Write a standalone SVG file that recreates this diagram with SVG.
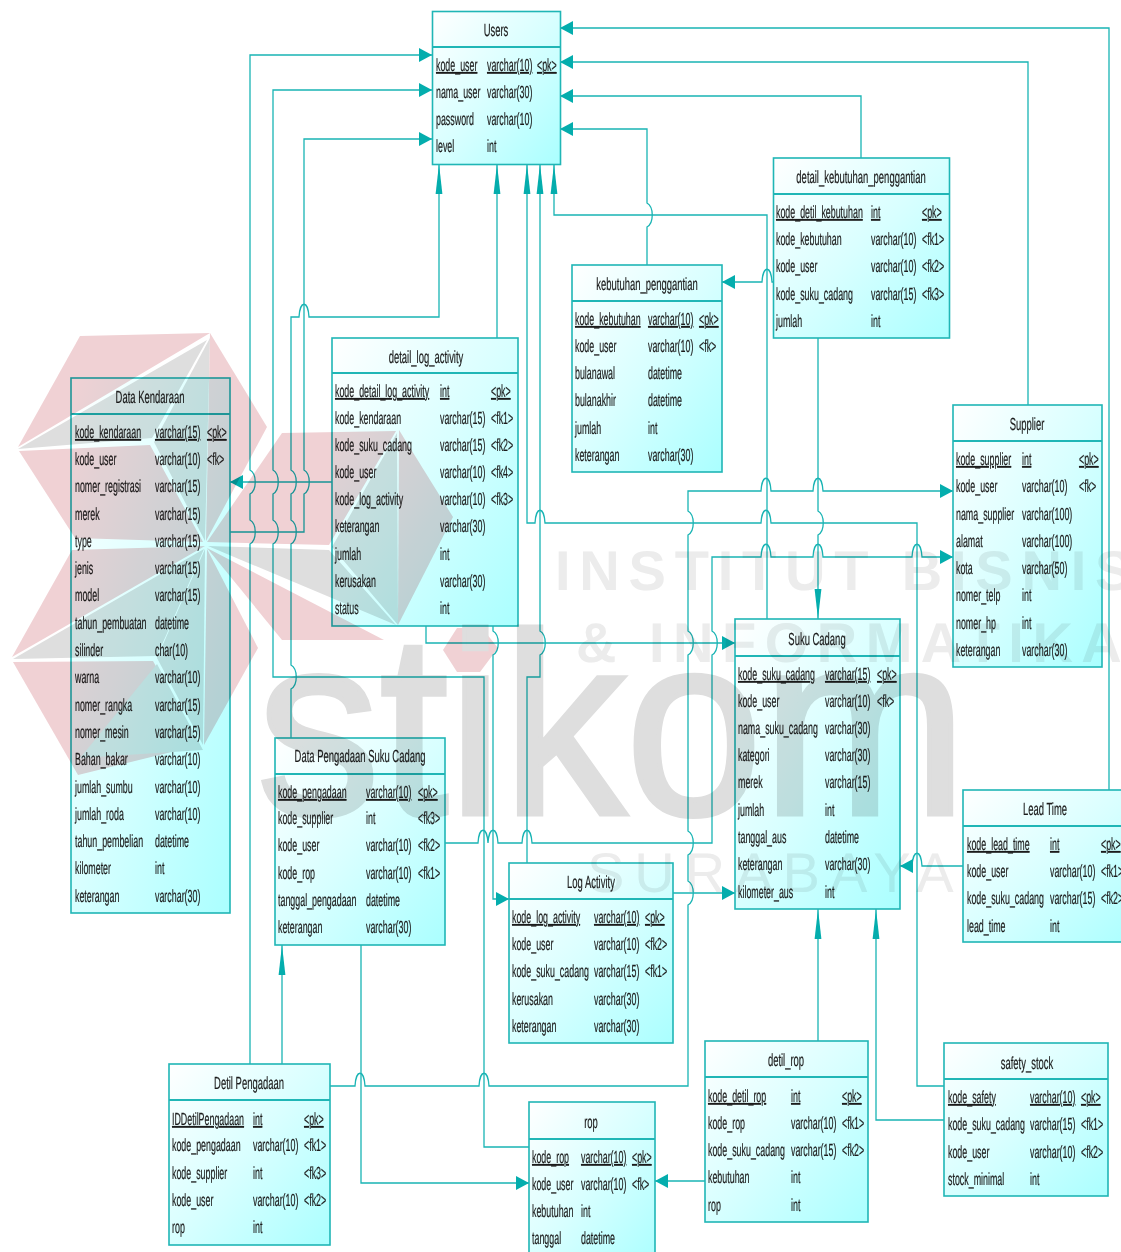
<svg xmlns="http://www.w3.org/2000/svg" width="1121" height="1252" viewBox="0 0 1121 1252">
<style>
text{font-family:"Liberation Sans",Arial,sans-serif;font-size:17.500px;fill:#1c1c1c;stroke:#1c1c1c;stroke-width:.22;text-rendering:geometricPrecision}
.u{text-decoration:underline}
.m{text-anchor:middle}
.b{fill:url(#tg);stroke:#20b6b6;stroke-width:1.6}
.d{stroke:#20b6b6;stroke-width:2}
#connectors path{fill:none;stroke:#19b4b4;stroke-width:1.3}
#connectors use{fill:#04adad}
#watermark{mix-blend-mode:multiply}
#watermark .p{fill:#f0d1d4}
#watermark .g{fill:#dedede}
#watermark text{font-weight:bold;font-size:56px;fill:#ececec;stroke:none}
</style>
<defs>
<linearGradient id="tg" x1="0" y1="0" x2="1" y2="1"><stop offset="0" stop-color="#fff"/><stop offset=".5" stop-color="#d8ffff"/><stop offset="1" stop-color="#aaffff"/></linearGradient>
<path id="ar" d="M0 0L-13-7V7Z"/>
<path id="al" d="M0 0L13-7V7Z"/>
<path id="au" d="M0 0L-3.4 30H3.4Z"/>
<path id="ad" d="M0 0L-3.4-30H3.4Z"/>
</defs>
<rect width="1121" height="1252" fill="#fff"/>
<g id="connectors">
<path d="M432 55H250V470c7 4 7 20 0 24V520c7 4 7 20 0 24V1064"/>
<path d="M432 90H273V470c7 4 7 20 0 24V520c7 4 7 20 0 24V677H484V1147H529"/>
<path d="M432 139H304V470c7 4 7 20 0 24V532H230"/>
<path d="M439 164V317H309c-1-17-9-17-10 0H291V470c7 4 7 20 0 24V520c7 4 7 20 0 24V665c7 4 7 20 0 24V738"/>
<path d="M497 338V164"/>
<path d="M527 164V523H535c1-17 9-17 10 0H761c1-17 9-17 10 0H917V1086H944"/>
<path d="M527 863V677H540V655c7-4 7-20 0-24V164"/>
<path d="M554 164V215H767V619"/>
<path d="M560 129H647V203c7 4 7 20 0 24V265"/>
<path d="M560 96H861V158"/>
<path d="M560 62H1028V405"/>
<path d="M560 28H1109V790"/>
<path d="M773 282H772c-1-17-9-17-10 0H722"/>
<path d="M818 338V511c7 4 7 20 0 24V619"/>
<path d="M953 491H823c-1-17-9-17-10 0H771c-1-17-9-17-10 0H688V511c7 4 7 20 0 24V631c7 4 7 20 0 24V831c7 4 7 20 0 24V881c7 4 7 20 0 24V1086H489c-1-17-9-17-10 0H365c-1-17-9-17-10 0H330"/>
<path d="M953 557H922c-1-17-9-17-10 0H823c-1-17-9-17-10 0H771c-1-17-9-17-10 0H712V631c7 4 7 20 0 24V843H532c-1-17-9-17-10 0H498c-1-17-9-17-10 0c-1-17-9-17-10 0H445"/>
<path d="M426 626V643H735"/>
<path d="M493 626V631c7 4 7 20 0 24V899H509"/>
<path d="M332 482H230"/>
<path d="M673 893H735"/>
<path d="M361 945V1183H529"/>
<path d="M282 1064V945"/>
<path d="M705 1181H655"/>
<path d="M818 1041V909"/>
<path d="M944 1120H876V909"/>
<path d="M963 866H922c-1-17-9-17-10 0H900"/>
<use href="#ar" x="432" y="55"/><use href="#ar" x="432" y="90"/><use href="#ar" x="432" y="139"/>
<use href="#ar" x="953" y="491"/><use href="#ar" x="953" y="557"/><use href="#ar" x="735" y="643"/>
<use href="#ar" x="735" y="893"/><use href="#ar" x="509" y="899"/><use href="#ar" x="529" y="1183"/>
<use href="#al" x="560" y="28"/><use href="#al" x="560" y="62"/><use href="#al" x="560" y="96"/>
<use href="#al" x="560" y="129"/><use href="#al" x="722" y="282"/><use href="#al" x="230" y="482"/>
<use href="#al" x="655" y="1181"/><use href="#al" x="900" y="866"/>
<use href="#au" x="439" y="164"/><use href="#au" x="497" y="164"/><use href="#au" x="527" y="164"/>
<use href="#au" x="540" y="164"/><use href="#au" x="554" y="164"/><use href="#au" x="282" y="945"/>
<use href="#au" x="818" y="909"/><use href="#au" x="876" y="909"/><use href="#ad" x="818" y="619"/>
</g>

<g id="users">
<rect class="b" x="432.500" y="11.500" width="128" height="153"/><path class="d" d="M432 47H560"/>
<text class="m" transform="translate(496 36) scale(.54 1)">Users</text>
<g transform="translate(436 1) scale(.507 1)"><text class="u" y="70">kode_user</text><text y="97">nama_user</text><text y="124">password</text><text y="151">level</text></g>
<g transform="translate(487 1) scale(.507 1)"><text class="u" y="70">varchar(10)</text><text y="97">varchar(30)</text><text y="124">varchar(10)</text><text y="151">int</text></g>
<g transform="translate(537 1) scale(.507 1)"><text class="u" y="70">&lt;pk&gt;</text></g>
</g>

<g id="detail_kebutuhan_penggantian">
<rect class="b" x="773.500" y="158" width="176" height="180"/><path class="d" d="M773 194H949"/>
<text class="m" transform="translate(861 183) scale(.54 1)">detail_kebutuhan_penggantian</text>
<g transform="translate(776 1) scale(.507 1)"><text class="u" y="217">kode_detil_kebutuhan</text><text y="244">kode_kebutuhan</text><text y="271">kode_user</text><text y="299">kode_suku_cadang</text><text y="326">jumlah</text></g>
<g transform="translate(871 1) scale(.507 1)"><text class="u" y="217">int</text><text y="244">varchar(10)</text><text y="271">varchar(10)</text><text y="299">varchar(15)</text><text y="326">int</text></g>
<g transform="translate(922 1) scale(.507 1)"><text class="u" y="217">&lt;pk&gt;</text><text y="244">&lt;fk1&gt;</text><text y="271">&lt;fk2&gt;</text><text y="299">&lt;fk3&gt;</text></g>
</g>

<g id="kebutuhan_penggantian">
<rect class="b" x="572" y="265" width="150" height="207"/><path class="d" d="M572 301H722"/>
<text class="m" transform="translate(647 290) scale(.54 1)">kebutuhan_penggantian</text>
<g transform="translate(575 1) scale(.507 1)"><text class="u" y="324">kode_kebutuhan</text><text y="351">kode_user</text><text y="378">bulanawal</text><text y="405">bulanakhir</text><text y="433">jumlah</text><text y="460">keterangan</text></g>
<g transform="translate(648 1) scale(.507 1)"><text class="u" y="324">varchar(10)</text><text y="351">varchar(10)</text><text y="378">datetime</text><text y="405">datetime</text><text y="433">int</text><text y="460">varchar(30)</text></g>
<g transform="translate(699 1) scale(.507 1)"><text class="u" y="324">&lt;pk&gt;</text><text y="351">&lt;fk&gt;</text></g>
</g>

<g id="detail_log_activity">
<rect class="b" x="332" y="338" width="186" height="288"/><path class="d" d="M332 373H518"/>
<text class="m" transform="translate(426 363) scale(.54 1)">detail_log_activity</text>
<g transform="translate(335 1) scale(.507 1)"><text class="u" y="396">kode_detail_log_activity</text><text y="423">kode_kendaraan</text><text y="450">kode_suku_cadang</text><text y="477">kode_user</text><text y="504">kode_log_activity</text><text y="531">keterangan</text><text y="559">jumlah</text><text y="586">kerusakan</text><text y="613">status</text></g>
<g transform="translate(440 1) scale(.507 1)"><text class="u" y="396">int</text><text y="423">varchar(15)</text><text y="450">varchar(15)</text><text y="477">varchar(10)</text><text y="504">varchar(10)</text><text y="531">varchar(30)</text><text y="559">int</text><text y="586">varchar(30)</text><text y="613">int</text></g>
<g transform="translate(491 1) scale(.507 1)"><text class="u" y="396">&lt;pk&gt;</text><text y="423">&lt;fk1&gt;</text><text y="450">&lt;fk2&gt;</text><text y="477">&lt;fk4&gt;</text><text y="504">&lt;fk3&gt;</text></g>
</g>

<g id="data_kendaraan">
<rect class="b" x="71" y="378" width="159" height="535"/><path class="d" d="M71 414H230"/>
<text class="m" transform="translate(150 403) scale(.54 1)">Data Kendaraan</text>
<g transform="translate(75 1) scale(.507 1)"><text class="u" y="437">kode_kendaraan</text><text y="464">kode_user</text><text y="491">nomer_registrasi</text><text y="519">merek</text><text y="546">type</text><text y="573">jenis</text><text y="600">model</text><text y="628">tahun_pembuatan</text><text y="655">silinder</text><text y="682">warna</text><text y="710">nomer_rangka</text><text y="737">nomer_mesin</text><text y="764">Bahan_bakar</text><text y="792">jumlah_sumbu</text><text y="819">jumlah_roda</text><text y="846">tahun_pembelian</text><text y="873">kilometer</text><text y="901">keterangan</text></g>
<g transform="translate(155 1) scale(.507 1)"><text class="u" y="437">varchar(15)</text><text y="464">varchar(10)</text><text y="491">varchar(15)</text><text y="519">varchar(15)</text><text y="546">varchar(15)</text><text y="573">varchar(15)</text><text y="600">varchar(15)</text><text y="628">datetime</text><text y="655">char(10)</text><text y="682">varchar(10)</text><text y="710">varchar(15)</text><text y="737">varchar(15)</text><text y="764">varchar(10)</text><text y="792">varchar(10)</text><text y="819">varchar(10)</text><text y="846">datetime</text><text y="873">int</text><text y="901">varchar(30)</text></g>
<g transform="translate(207 1) scale(.507 1)"><text class="u" y="437">&lt;pk&gt;</text><text y="464">&lt;fk&gt;</text></g>
</g>

<g id="supplier">
<rect class="b" x="953" y="405" width="149" height="262"/><path class="d" d="M953 441H1102"/>
<text class="m" transform="translate(1027 430) scale(.54 1)">Supplier</text>
<g transform="translate(956 1) scale(.507 1)"><text class="u" y="464">kode_supplier</text><text y="491">kode_user</text><text y="519">nama_supplier</text><text y="546">alamat</text><text y="573">kota</text><text y="600">nomer_telp</text><text y="628">nomer_hp</text><text y="655">keterangan</text></g>
<g transform="translate(1022 1) scale(.507 1)"><text class="u" y="464">int</text><text y="491">varchar(10)</text><text y="519">varchar(100)</text><text y="546">varchar(100)</text><text y="573">varchar(50)</text><text y="600">int</text><text y="628">int</text><text y="655">varchar(30)</text></g>
<g transform="translate(1079 1) scale(.507 1)"><text class="u" y="464">&lt;pk&gt;</text><text y="491">&lt;fk&gt;</text></g>
</g>

<g id="suku_cadang">
<rect class="b" x="735" y="619" width="165" height="290"/><path class="d" d="M735 656H900"/>
<text class="m" transform="translate(817 645) scale(.54 1)">Suku Cadang</text>
<g transform="translate(738 1) scale(.507 1)"><text class="u" y="679">kode_suku_cadang</text><text y="706">kode_user</text><text y="733">nama_suku_cadang</text><text y="760">kategori</text><text y="787">merek</text><text y="815">jumlah</text><text y="842">tanggal_aus</text><text y="869">keterangan</text><text y="897">kilometer_aus</text></g>
<g transform="translate(825 1) scale(.507 1)"><text class="u" y="679">varchar(15)</text><text y="706">varchar(10)</text><text y="733">varchar(30)</text><text y="760">varchar(30)</text><text y="787">varchar(15)</text><text y="815">int</text><text y="842">datetime</text><text y="869">varchar(30)</text><text y="897">int</text></g>
<g transform="translate(877 1) scale(.507 1)"><text class="u" y="679">&lt;pk&gt;</text><text y="706">&lt;fk&gt;</text></g>
</g>

<g id="lead_time">
<rect class="b" x="963" y="790" width="175" height="152"/><path class="d" d="M963 826H1138"/>
<text class="m" transform="translate(1045 815) scale(.54 1)">Lead Time</text>
<g transform="translate(967 1) scale(.507 1)"><text class="u" y="849">kode_lead_time</text><text y="876">kode_user</text><text y="903">kode_suku_cadang</text><text y="931">lead_time</text></g>
<g transform="translate(1050 1) scale(.507 1)"><text class="u" y="849">int</text><text y="876">varchar(10)</text><text y="903">varchar(15)</text><text y="931">int</text></g>
<g transform="translate(1101 1) scale(.507 1)"><text class="u" y="849">&lt;pk&gt;</text><text y="876">&lt;fk1&gt;</text><text y="903">&lt;fk2&gt;</text></g>
</g>

<g id="data_pengadaan_suku_cadang">
<rect class="b" x="275" y="738" width="170" height="207"/><path class="d" d="M275 774H445"/>
<text class="m" transform="translate(360 762) scale(.54 1)">Data Pengadaan Suku Cadang</text>
<g transform="translate(278 1) scale(.507 1)"><text class="u" y="797">kode_pengadaan</text><text y="823">kode_supplier</text><text y="850">kode_user</text><text y="878">kode_rop</text><text y="905">tanggal_pengadaan</text><text y="932">keterangan</text></g>
<g transform="translate(366 1) scale(.507 1)"><text class="u" y="797">varchar(10)</text><text y="823">int</text><text y="850">varchar(10)</text><text y="878">varchar(10)</text><text y="905">datetime</text><text y="932">varchar(30)</text></g>
<g transform="translate(418 1) scale(.507 1)"><text class="u" y="797">&lt;pk&gt;</text><text y="823">&lt;fk3&gt;</text><text y="850">&lt;fk2&gt;</text><text y="878">&lt;fk1&gt;</text></g>
</g>

<g id="log_activity">
<rect class="b" x="509" y="863" width="164" height="180"/><path class="d" d="M509 899H673"/>
<text class="m" transform="translate(591 888) scale(.54 1)">Log Activity</text>
<g transform="translate(512 1) scale(.507 1)"><text class="u" y="922">kode_log_activity</text><text y="949">kode_user</text><text y="976">kode_suku_cadang</text><text y="1004">kerusakan</text><text y="1031">keterangan</text></g>
<g transform="translate(594 1) scale(.507 1)"><text class="u" y="922">varchar(10)</text><text y="949">varchar(10)</text><text y="976">varchar(15)</text><text y="1004">varchar(30)</text><text y="1031">varchar(30)</text></g>
<g transform="translate(645 1) scale(.507 1)"><text class="u" y="922">&lt;pk&gt;</text><text y="949">&lt;fk2&gt;</text><text y="976">&lt;fk1&gt;</text></g>
</g>

<g id="detil_pengadaan">
<rect class="b" x="169" y="1064" width="161" height="181"/><path class="d" d="M169 1100H330"/>
<text class="m" transform="translate(249 1089) scale(.54 1)">Detil Pengadaan</text>
<g transform="translate(172 1) scale(.507 1)"><text class="u" y="1124">IDDetilPengadaan</text><text y="1150">kode_pengadaan</text><text y="1178">kode_supplier</text><text y="1205">kode_user</text><text y="1232">rop</text></g>
<g transform="translate(253 1) scale(.507 1)"><text class="u" y="1124">int</text><text y="1150">varchar(10)</text><text y="1178">int</text><text y="1205">varchar(10)</text><text y="1232">int</text></g>
<g transform="translate(304 1) scale(.507 1)"><text class="u" y="1124">&lt;pk&gt;</text><text y="1150">&lt;fk1&gt;</text><text y="1178">&lt;fk3&gt;</text><text y="1205">&lt;fk2&gt;</text></g>
</g>

<g id="rop">
<rect class="b" x="529" y="1102" width="126" height="165"/><path class="d" d="M529 1139H655"/>
<text class="m" transform="translate(591 1128) scale(.54 1)">rop</text>
<g transform="translate(532 1) scale(.507 1)"><text class="u" y="1162">kode_rop</text><text y="1189">kode_user</text><text y="1216">kebutuhan</text><text y="1243">tanggal</text></g>
<g transform="translate(581 1) scale(.507 1)"><text class="u" y="1162">varchar(10)</text><text y="1189">varchar(10)</text><text y="1216">int</text><text y="1243">datetime</text></g>
<g transform="translate(632 1) scale(.507 1)"><text class="u" y="1162">&lt;pk&gt;</text><text y="1189">&lt;fk&gt;</text></g>
</g>

<g id="detil_rop">
<rect class="b" x="705" y="1041" width="163" height="181"/><path class="d" d="M705 1077H868"/>
<text class="m" transform="translate(786 1066) scale(.54 1)">detil_rop</text>
<g transform="translate(708 1) scale(.507 1)"><text class="u" y="1101">kode_detil_rop</text><text y="1128">kode_rop</text><text y="1155">kode_suku_cadang</text><text y="1182">kebutuhan</text><text y="1210">rop</text></g>
<g transform="translate(791 1) scale(.507 1)"><text class="u" y="1101">int</text><text y="1128">varchar(10)</text><text y="1155">varchar(15)</text><text y="1182">int</text><text y="1210">int</text></g>
<g transform="translate(842 1) scale(.507 1)"><text class="u" y="1101">&lt;pk&gt;</text><text y="1128">&lt;fk1&gt;</text><text y="1155">&lt;fk2&gt;</text></g>
</g>

<g id="safety_stock">
<rect class="b" x="944" y="1043" width="164" height="153"/><path class="d" d="M944 1079H1108"/>
<text class="m" transform="translate(1027 1069) scale(.54 1)">safety_stock</text>
<g transform="translate(948 1) scale(.507 1)"><text class="u" y="1102">kode_safety</text><text y="1129">kode_suku_cadang</text><text y="1157">kode_user</text><text y="1184">stock_minimal</text></g>
<g transform="translate(1030 1) scale(.507 1)"><text class="u" y="1102">varchar(10)</text><text y="1129">varchar(15)</text><text y="1157">varchar(10)</text><text y="1184">int</text></g>
<g transform="translate(1081 1) scale(.507 1)"><text class="u" y="1102">&lt;pk&gt;</text><text y="1129">&lt;fk1&gt;</text><text y="1157">&lt;fk2&gt;</text></g>
</g>

<g id="watermark">
<polygon class="p" points="80,336 210,333 18,447"/>
<polygon class="g" points="18,449 207,340 152,438"/>
<polygon class="g" points="210,338 154,442 205,541"/>
<polygon class="p" points="210,333 267,427 206,541"/>
<polygon class="p" points="19,451 150,445 203,542 75,538"/>
<polygon class="p" points="205,546 72,550 12,657"/>
<polygon class="g" points="13,659 157,656 204,549"/>
<polygon class="g" points="205,549 157,658 203,745"/>
<polygon class="p" points="207,549 258,648 204,745"/>
<polygon class="p" points="13,662 153,661 200,745 78,775"/>
<polygon class="g" points="157,664 203,750 80,758"/>
<polygon class="p" points="207,542 282,433 396,431 329,545"/>
<polygon class="g" points="208,546 329,550 396,625"/>
<polygon class="g" points="397,433 332,547 398,625"/>
<polygon class="p" points="399,430 453,517 398,625"/>
<polygon class="p" points="207,548 384,640 282,640"/>
<polygon class="p" points="457,628 482,628 498,648 480,672 457,672 443,650"/>
<text x="257" y="814" textLength="710" lengthAdjust="spacingAndGlyphs" style="font-weight:normal;font-size:258px;fill:#dedede;stroke:#dedede;stroke-width:5px">stikom</text>
<text x="555" y="590" style="letter-spacing:8.800px">INSTITUT BISNIS</text>
<text x="576" y="662" style="letter-spacing:8.500px">&amp; INFORMATIKA</text>
<text x="587" y="892" style="font-weight:normal;letter-spacing:10px">SURABAYA</text>
</g>
</svg>
